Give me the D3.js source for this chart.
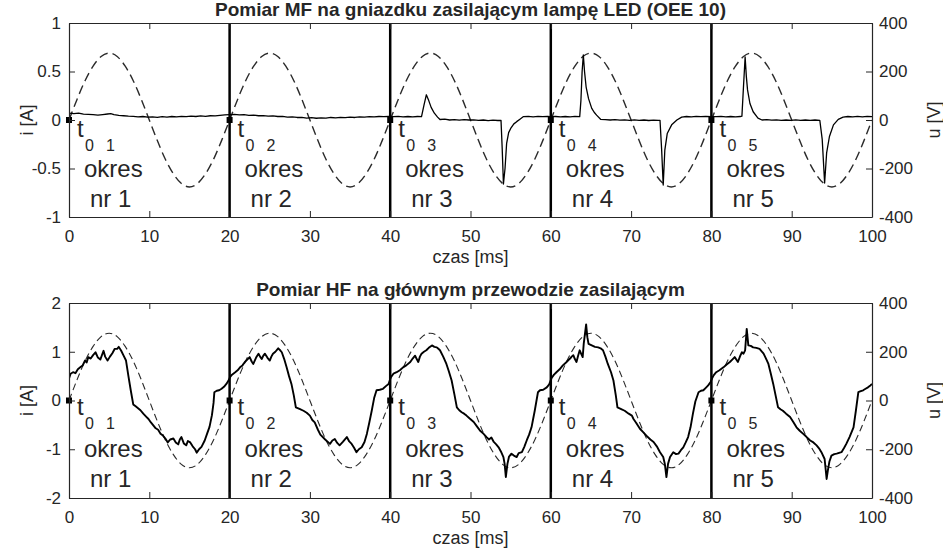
<!DOCTYPE html>
<html>
<head>
<meta charset="utf-8">
<script src="https://d3js.org/d3.v7.min.js"></script>
<style>
  body { margin: 0; background: #fff; }
  svg text { font-family: "Liberation Sans", Arial, Helvetica, sans-serif; fill: #262626; }
</style>
</head>
<body>
<svg id="chart" width="943" height="560"></svg>
<script>
// texts
var TYTUL_MF = "Pomiar MF na gniazdku zasilającym lampę LED (OEE 10)";
var TYTUL_HF = "Pomiar HF na głównym przewodzie zasilającym";
var OS_X = "czas [ms]";
var OS_I = "i [A]";
var OS_U = "u [V]";

// ticks
var CZAS_TICKS = [0, 10, 20, 30, 40, 50, 60, 70, 80, 90, 100];
var MF_TICKS = [-1, -0.5, 0, 0.5, 1];
var HF_TICKS = [-2, -1, 0, 1, 2];
var U_TICKS = [-400, -200, 0, 200, 400];

// period boundaries and start points t0
var GRANICE = [20, 40, 60, 80];
var T0 = [0, 20, 40, 60, 80];
var OKRESY = [1, 2, 3, 4, 5];

// supply voltage [V], one sample per ms from 0 to 100 ms
var napiecie = [
  0, 85, 162, 222, 262, 276, 262, 222, 162, 85, 0, -85, -162, -222, -262, -276, -262, -222, -162, -85,
  0, 85, 162, 222, 262, 276, 262, 222, 162, 85, 0, -85, -162, -222, -262, -276, -262, -222, -162, -85,
  0, 85, 162, 222, 262, 276, 262, 222, 162, 85, 0, -85, -162, -222, -262, -276, -262, -222, -162, -85,
  0, 85, 162, 222, 262, 276, 262, 222, 162, 85, 0, -85, -162, -222, -262, -276, -262, -222, -162, -85,
  0, 85, 162, 222, 262, 276, 262, 222, 162, 85, 0, -85, -162, -222, -262, -276, -262, -222, -162, -85,
  0
];

// MF current on the socket [ms, A]
var pradMF = [
  [0,0.07],[0.6,0.065],[1.2,0.07],[1.8,0.06],[2.4,0.058],[3,0.055],[3.6,0.05],[4.2,0.056],[4.8,0.062],[5.2,0.066],
  [5.6,0.055],[6.2,0.048],[6.8,0.044],[7.4,0.04],[8,0.038],[8.6,0.032],[9.2,0.036],[9.8,0.03],[10.4,0.033],[11,0.028],
  [11.6,0.034],[12.2,0.03],[12.8,0.036],[13.4,0.032],[14,0.038],[14.6,0.034],[15.2,0.04],[15.8,0.036],[16.4,0.042],
  [17,0.038],[17.6,0.044],[18.2,0.042],[18.8,0.048],[19.4,0.052],[20,0.055],
  [20.6,0.058],[21.2,0.052],[21.8,0.055],[22.4,0.048],[23,0.05],[23.6,0.044],[24.2,0.046],[24.8,0.04],[25.4,0.043],
  [26,0.036],[26.6,0.038],[27.2,0.03],[27.8,0.032],[28.4,0.026],[29,0.028],[29.6,0.02],[30.2,0.024],[30.8,0.018],
  [31.4,0.022],[32,0.02],[32.6,0.026],[33.2,0.022],[33.8,0.028],[34.4,0.024],[35,0.03],[35.6,0.026],[36.2,0.032],
  [36.8,0.03],[37.4,0.034],[38,0.032],[38.6,0.036],[39.2,0.034],[39.8,0.038],
  [40.4,0.035],[41,0.038],[41.6,0.033],[42.2,0.036],[42.8,0.032],[43.4,0.036],[43.9,0.035],[44.2,0.15],[44.5,0.26],
  [44.8,0.2],[45.1,0.13],[45.5,0.07],[45.9,0.03],[46.2,0.005],[46.8,0.008],[47.4,0],[48,0.004],[48.6,-0.002],
  [49.2,0.003],[49.8,0],[50.4,0.002],[51,-0.004],[51.6,0],[52.2,-0.006],[52.8,-0.002],[53.4,-0.005],[53.8,-0.004],
  [53.95,-0.3],[54.1,-0.66],[54.3,-0.5],[54.5,-0.24],[54.75,-0.13],[55.05,-0.08],[55.4,-0.04],[55.75,-0.017],
  [56.2,0.01],[56.6,0.035],[57.2,0.038],[57.8,0.033],[58.4,0.037],[59,0.034],[59.6,0.038],[60,0.035],
  [60.6,0.036],[61.2,0.032],[61.8,0.036],[62.4,0.033],[63,0.037],[63.6,0.035],[63.75,0.2],[63.9,0.5],[64.05,0.67],
  [64.2,0.5],[64.4,0.34],[64.7,0.22],[65.1,0.12],[65.4,0.08],[65.7,0.05],[66.2,0.007],[66.8,0.004],[67.4,0],
  [68,0.003],[68.6,-0.002],[69.2,0.002],[69.8,-0.003],[70.4,0.001],[71,-0.004],[71.6,0],[72.2,-0.005],[72.8,-0.002],
  [73.4,-0.004],[73.6,-0.003],[73.8,-0.3],[74,-0.67],[74.2,-0.31],[74.5,-0.14],[75.05,-0.05],[75.7,0],[76.3,0.03],
  [76.9,0.036],[77.5,0.032],[78.1,0.037],[78.7,0.034],[79.3,0.038],[80,0.035],
  [80.6,0.034],[81.2,0.038],[81.8,0.033],[82.4,0.036],[83,0.032],[83.6,0.036],[83.8,0.04],[84,0.35],[84.2,0.65],
  [84.35,0.45],[84.5,0.31],[84.8,0.17],[85.2,0.085],[85.8,0.02],[86.3,0],[86.9,0.003],[87.5,-0.002],[88.1,0.002],
  [88.7,-0.003],[89.3,0],[89.9,-0.004],[90.5,0.001],[91.1,-0.003],[91.7,0],[92.3,-0.004],[92.9,0],[93.5,-0.003],
  [93.8,-0.2],[94.1,-0.65],[94.35,-0.34],[94.7,-0.17],[95.2,-0.05],[95.8,0.007],[96.4,0.03],[97,0.036],[97.6,0.032],
  [98.2,0.037],[98.8,0.033],[99.4,0.038],[100,0.035]
];

// HF current on the main supply wire [ms, A]
var pradHF = [
  [0,0.45],[0.2,0.55],[0.5,0.58],[0.8,0.56],[1.1,0.64],[1.4,0.68],[1.7,0.72],[2,0.82],[2.2,0.78],[2.4,0.89],
  [2.7,0.86],[3,0.93],[3.3,0.99],[3.6,0.88],[3.9,0.84],[4.3,1.02],[4.5,0.9],[4.8,0.82],[5.1,0.9],[5.4,0.97],
  [5.7,1.06],[6,1.06],[6.2,1.1],[6.5,1.02],[6.8,0.92],[7.1,0.82],[7.4,0.5],[7.7,0.2],[8,-0.08],[8.3,-0.12],
  [8.6,-0.16],[8.9,-0.2],[9.25,-0.27],[9.6,-0.33],[9.9,-0.38],[10.2,-0.45],[10.5,-0.51],[10.8,-0.57],[11.1,-0.6],
  [11.4,-0.68],[11.7,-0.72],[12,-0.78],[12.3,-0.86],[12.6,-0.8],[13,-0.78],[13.3,-0.86],[13.6,-0.9],[13.8,-0.8],
  [14,-0.75],[14.3,-0.88],[14.6,-0.92],[14.8,-0.83],[15.1,-0.86],[15.4,-0.94],[15.7,-1],[15.9,-1.07],[16.2,-1],
  [16.5,-0.95],[16.9,-0.82],[17.2,-0.68],[17.5,-0.54],[17.8,-0.3],[18,-0.05],[18.1,0.17],[18.4,0.2],[18.7,0.21],
  [19,0.24],[19.3,0.28],[19.6,0.34],[19.9,0.42],
  [20.05,0.48],[20.3,0.53],[20.7,0.58],[21,0.62],[21.3,0.68],[21.6,0.72],[21.9,0.79],[22.2,0.84],[22.5,0.89],
  [22.75,0.8],[22.95,0.75],[23.3,0.88],[23.6,0.96],[23.8,0.9],[24,0.85],[24.2,0.92],[24.4,0.96],[24.7,0.88],
  [25,0.82],[25.2,0.9],[25.4,0.96],[25.7,1],[26.05,1.07],[26.3,1.03],[26.5,0.99],[26.8,0.85],[27.1,0.68],
  [27.4,0.5],[27.7,0.34],[28,0.1],[28.25,-0.14],[28.7,-0.17],[29.2,-0.21],[29.6,-0.25],[30,-0.31],[30.3,-0.4],
  [30.6,-0.45],[31,-0.6],[31.3,-0.7],[31.9,-0.8],[32.5,-0.89],[32.8,-0.82],[33.1,-0.79],[33.4,-0.87],[33.7,-0.92],
  [34.1,-0.85],[34.6,-0.75],[34.9,-0.84],[35.2,-0.89],[35.5,-0.97],[35.8,-1.06],[36.1,-1],[36.45,-0.96],
  [36.8,-0.85],[37.1,-0.68],[37.4,-0.45],[37.7,-0.21],[38,0.05],[38.3,0.21],[38.7,0.22],[39.1,0.24],[39.5,0.3],
  [39.8,0.34],[40,0.44],
  [40.1,0.48],[40.4,0.55],[40.8,0.58],[41.2,0.62],[41.6,0.68],[42,0.72],[42.5,0.79],[42.8,0.86],[43.1,0.92],
  [43.3,0.85],[43.5,0.79],[43.7,0.9],[43.9,0.96],[44.2,1],[44.5,1.03],[44.8,1.08],[45.2,1.13],[45.5,1.1],
  [45.8,1.09],[46,1.06],[46.2,1.03],[46.6,0.9],[47,0.75],[47.3,0.6],[47.65,0.41],[48,0.12],[48.3,-0.14],
  [48.6,-0.2],[48.9,-0.24],[49.2,-0.27],[49.5,-0.31],[49.9,-0.37],[50.4,-0.44],[50.8,-0.53],[51.2,-0.62],
  [51.6,-0.68],[52,-0.75],[52.3,-0.8],[52.6,-0.76],[52.9,-0.85],[53.2,-0.9],[53.5,-0.96],[53.8,-1.05],[54.1,-1.16],
  [54.25,-1.3],[54.4,-1.57],[54.6,-1.3],[54.8,-1.15],[55.1,-1.09],[55.4,-1.13],[55.75,-1.16],[56,-1.08],
  [56.4,-1.06],[56.7,-0.95],[57,-0.82],[57.3,-0.7],[57.6,-0.55],[57.8,-0.38],[58,-0.21],[58.4,0.17],[58.65,0.21],
  [59.05,0.22],[59.5,0.27],[59.8,0.33],[60.1,0.46],
  [60.4,0.53],[60.7,0.58],[61.1,0.64],[61.5,0.72],[61.9,0.78],[62.2,0.83],[62.4,0.86],[62.6,0.9],[62.8,0.93],
  [63,0.85],[63.2,0.79],[63.4,0.92],[63.6,1.03],[63.8,0.95],[63.97,0.89],[64.1,1.16],[64.4,1.56],[64.55,1.3],
  [64.7,1.16],[65.1,1.13],[65.5,1.1],[65.9,1.09],[66.2,1.07],[66.5,1.03],[66.8,0.9],[67.1,0.75],[67.5,0.58],
  [67.8,0.41],[68.1,0.1],[68.3,-0.14],[68.7,-0.17],[69.2,-0.21],[69.7,-0.27],[70.1,-0.31],[70.3,-0.38],
  [70.6,-0.45],[71.1,-0.58],[71.5,-0.65],[71.9,-0.72],[72.4,-0.8],[72.8,-0.85],[73.2,-0.94],[73.6,-1.06],
  [74,-1.16],[74.2,-1.3],[74.4,-1.57],[74.6,-1.3],[74.85,-1.16],[75.25,-1.06],[75.6,-1.1],[75.9,-1.09],
  [76.2,-1.02],[76.5,-0.96],[76.8,-0.86],[77.1,-0.75],[77.4,-0.55],[77.7,-0.27],[78,-0.02],[78.4,0.17],
  [78.7,0.2],[79,0.21],[79.3,0.26],[79.6,0.31],[79.9,0.38],
  [80.1,0.46],[80.3,0.52],[80.6,0.58],[81,0.62],[81.5,0.68],[81.9,0.74],[82.3,0.79],[82.6,0.84],[82.9,0.89],
  [83.1,0.84],[83.3,0.79],[83.6,0.92],[83.8,0.99],[84,0.96],[84.2,1.03],[84.4,1.47],[84.6,1.13],[84.9,1.12],
  [85.2,1.09],[85.6,1.08],[86,1.06],[86.5,0.96],[86.8,0.86],[87.1,0.75],[87.4,0.55],[87.7,0.34],[88,0.1],
  [88.3,-0.14],[88.6,-0.18],[88.9,-0.21],[89.3,-0.27],[89.8,-0.34],[90.2,-0.44],[90.6,-0.55],[91,-0.62],
  [91.4,-0.68],[91.8,-0.74],[92.3,-0.82],[92.7,-0.86],[93.1,-0.92],[93.4,-0.98],[93.7,-1.06],[94.1,-1.2],
  [94.35,-1.61],[94.5,-1.44],[94.7,-1.25],[94.95,-1.13],[95.3,-1.1],[95.6,-1.09],[96.2,-1.06],[96.5,-0.98],
  [96.8,-0.89],[97.2,-0.75],[97.7,-0.55],[98,-0.2],[98.3,0.17],[98.6,0.19],[98.9,0.21],[99.2,0.24],[99.5,0.27],
  [99.8,0.31],[100,0.34]
];

var LEFT = 69, RIGHT = 872;
var AXIS_COLOR = "#262626";

var svg = d3.select("#chart");
svg.append("rect").attr("width", 943).attr("height", 560).attr("fill", "#fff");

var x = d3.scaleLinear().domain([0, 100]).range([LEFT, RIGHT]);

var panele = [
  { id: "mf", top: 23, bottom: 217, tytul: TYTUL_MF, iDomain: [-1, 1], iTicks: MF_TICKS, prad: pradMF,
    pradWidth: 1.3, uWidth: 1.4, uDash: "9,5",
    tY: 17, subY: 31, okresY: 57, nrY: 87 },
  { id: "hf", top: 303, bottom: 498, tytul: TYTUL_HF, iDomain: [-2, 2], iTicks: HF_TICKS, prad: pradHF,
    pradWidth: 1.9, uWidth: 1.1, uDash: "7,4",
    tY: 14, subY: 28, okresY: 56, nrY: 86 }
];

var rysujPanel = function(p) {
  var y = d3.scaleLinear().domain(p.iDomain).range([p.bottom, p.top]);
  var yu = d3.scaleLinear().domain([-400, 400]).range([p.bottom, p.top]);
  var g = svg.append("g");

  g.append("clipPath").attr("id", "clip-" + p.id)
    .append("rect")
    .attr("x", LEFT).attr("y", p.top)
    .attr("width", RIGHT - LEFT).attr("height", p.bottom - p.top);

  var plot = g.append("g").attr("clip-path", "url(#clip-" + p.id + ")");

  // voltage, dashed, right axis
  var liniaU = d3.line()
    .x(function(d, k) { return x(k); })
    .y(function(d) { return yu(d); })
    .curve(d3.curveNatural);
  plot.append("path")
    .datum(napiecie)
    .attr("d", liniaU)
    .attr("fill", "none")
    .attr("stroke", "#2a2a2a")
    .attr("stroke-width", p.uWidth)
    .attr("stroke-dasharray", p.uDash);

  // current, solid, left axis
  var liniaI = d3.line()
    .x(function(d) { return x(d[0]); })
    .y(function(d) { return y(d[1]); });
  plot.append("path")
    .datum(p.prad)
    .attr("d", liniaI)
    .attr("fill", "none")
    .attr("stroke", "#000")
    .attr("stroke-width", p.pradWidth)
    .attr("stroke-linejoin", "round");

  // period boundaries
  g.selectAll("line.granica").data(GRANICE).enter().append("line")
    .attr("class", "granica")
    .attr("x1", function(d) { return x(d); }).attr("x2", function(d) { return x(d); })
    .attr("y1", p.top).attr("y2", p.bottom)
    .attr("stroke", "#000").attr("stroke-width", 2.5);

  // t0 markers
  g.selectAll("rect.t0").data(T0).enter().append("rect")
    .attr("class", "t0")
    .attr("x", function(d) { return x(d) - 3; })
    .attr("y", y(0) - 3)
    .attr("width", 6).attr("height", 6)
    .attr("fill", "#000");

  // annotations
  var zero = y(0);
  var ann = g.selectAll("g.ann").data(OKRESY).enter().append("g")
    .attr("class", "ann")
    .attr("transform", function(d, k) { return "translate(" + x(T0[k]) + ",0)"; });
  ann.append("text").attr("x", 8).attr("y", zero + p.tY)
    .style("font-size", "24px").text("t");
  ann.append("text").attr("x", 16).attr("y", zero + p.subY)
    .style("font-size", "16px").text("0");
  ann.append("text").attr("x", 37).attr("y", zero + p.subY)
    .style("font-size", "16px").text(function(d) { return d; });
  ann.append("text").attr("x", 15).attr("y", zero + p.okresY)
    .style("font-size", "24px").text("okres");
  ann.append("text").attr("x", 21).attr("y", zero + p.nrY)
    .style("font-size", "24px").text(function(d) { return "nr " + d; });

  // axes
  var fmt = function(d) { return String(d); };
  var ax = [];
  ax.push(g.append("g").attr("transform", "translate(0," + p.bottom + ")")
    .call(d3.axisBottom(x).tickValues(CZAS_TICKS).tickFormat(fmt).tickSizeInner(-6).tickSizeOuter(0).tickPadding(13)));
  ax.push(g.append("g").attr("transform", "translate(0," + p.top + ")")
    .call(d3.axisTop(x).tickValues(CZAS_TICKS).tickFormat("").tickSizeInner(-6).tickSizeOuter(0)));
  ax.push(g.append("g").attr("transform", "translate(" + LEFT + ",0)")
    .call(d3.axisLeft(y).tickValues(p.iTicks).tickFormat(fmt).tickSizeInner(-6).tickSizeOuter(0).tickPadding(8)));
  ax.push(g.append("g").attr("transform", "translate(" + RIGHT + ",0)")
    .call(d3.axisRight(yu).tickValues(U_TICKS).tickFormat(fmt).tickSizeInner(-6).tickSizeOuter(0).tickPadding(7)));
  ax.forEach(function(a) {
    a.select(".domain").attr("stroke", AXIS_COLOR).attr("stroke-width", 1.2);
    a.selectAll(".tick line").attr("stroke", AXIS_COLOR).attr("stroke-width", 1);
    a.selectAll(".tick text").style("font-size", "17px").attr("fill", AXIS_COLOR)
      .style("font-family", "'Liberation Sans', Arial, sans-serif");
  });

  // title and axis labels
  g.append("text")
    .attr("x", (LEFT + RIGHT) / 2).attr("y", p.top - 7)
    .attr("text-anchor", "middle")
    .style("font-size", "19px").style("font-weight", "bold")
    .text(p.tytul);
  g.append("text")
    .attr("x", (LEFT + RIGHT) / 2).attr("y", p.bottom + 46)
    .attr("text-anchor", "middle")
    .style("font-size", "18px")
    .text(OS_X);
  var srodek = (p.top + p.bottom) / 2;
  g.append("text")
    .attr("transform", "translate(33," + srodek + ") rotate(-90)")
    .attr("text-anchor", "middle")
    .style("font-size", "18px")
    .text(OS_I);
  g.append("text")
    .attr("transform", "translate(940," + srodek + ") rotate(-90)")
    .attr("text-anchor", "middle")
    .style("font-size", "18px")
    .text(OS_U);
};

for (var i = 0; i < panele.length; ++i) {
  rysujPanel(panele[i]);
}
</script>
</body>
</html>
